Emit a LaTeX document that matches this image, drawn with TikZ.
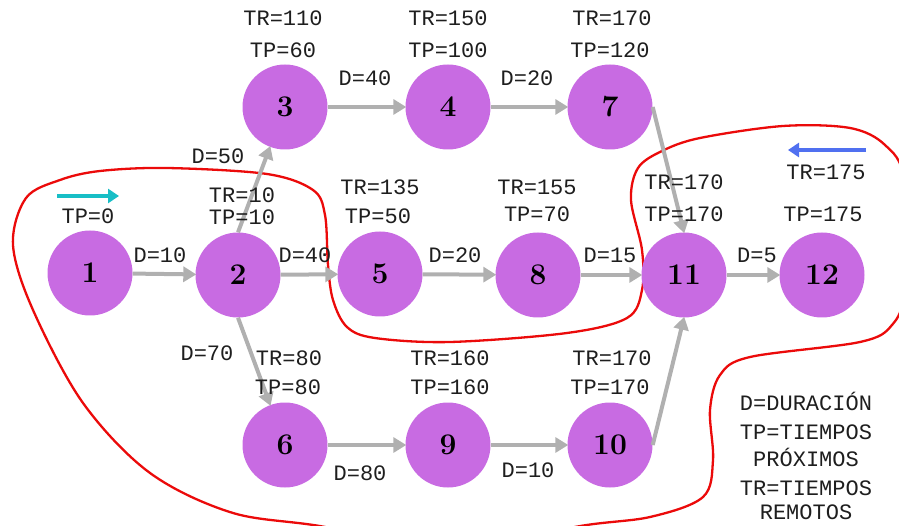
\documentclass[tikz,border=0pt]{standalone}
\usepackage{fontspec}
\newfontfamily\monofont{Liberation Mono}
\usetikzlibrary{arrows.meta}
\definecolor{nodepurple}{RGB}{200,107,226}
\definecolor{edgegray}{RGB}{176,176,176}
\definecolor{forwardcyan}{RGB}{24,190,198}
\definecolor{backblue}{RGB}{80,112,240}
\definecolor{critred}{RGB}{235,10,10}
\definecolor{labeltext}{RGB}{30,30,30}
\tikzset{
  event/.style={circle, fill=nodepurple, draw=none, minimum size=85pt, inner sep=0pt,
    font=\fontsize{30}{30}\selectfont\bfseries, text=black},
  lbl/.style={font=\monofont\fontsize{22}{22}\selectfont, text=labeltext, inner sep=0pt},
  activity/.style={draw=edgegray, line width=4pt, -{Triangle[length=13pt,width=15pt]}, shorten >=-1pt},
  dirarrow/.style={line width=3.5pt, -{Triangle[length=11pt,width=14pt]}},
  critical/.style={draw=critred, line width=2.3pt}
}
\begin{document}
\begin{tikzpicture}[x=1pt,y=-1pt]
\useasboundingbox (0,0) rectangle (899,526);
\begin{scope}
\clip (0,0) rectangle (899,526);
% boundary around the critical path
\draw[critical] plot[smooth cycle, tension=0.55] coordinates {
 (13,245) (26,198) (60,180) (100,171) (167,168) (267,174) (313,190) (325,215)
 (328,265) (333,300) (347,327) (375,338) (450,342) (567,333) (627,318) (642,290)
 (642,250) (631,200) (638,168) (662,151) (700,138) (783,126) (850,128) (885,145)
 (904,180) (904,290) (892,325) (860,342) (750,357) (720,375) (710,410) (713,460)
 (703,497) (650,517) (570,528) (450,560) (330,528) (233,513) (150,473) (83,403)
 (33,310)};
\end{scope}

% events
\node[event] (n1)  at (90,273)  {1};
\node[event] (n2)  at (238,275) {2};
\node[event] (n3)  at (285,107) {3};
\node[event] (n4)  at (448,107) {4};
\node[event] (n7)  at (610,107) {7};
\node[event] (n5)  at (380,274) {5};
\node[event] (n8)  at (538,275) {8};
\node[event] (n11) at (684,275) {11};
\node[event] (n12) at (822,275) {12};
\node[event] (n6)  at (285,445) {6};
\node[event] (n9)  at (448,445) {9};
\node[event] (n10) at (610,445) {10};

% activities
\draw[activity] (n1) -- (n2);
\draw[activity] (n2.north) -- (n3);
\draw[activity] (n3) -- (n4);
\draw[activity] (n4) -- (n7);
\draw[activity] (n7.east) -- (n11.north);
\draw[activity] (n2) -- (n5);
\draw[activity] (n5) -- (n8);
\draw[activity] (n8) -- (n11);
\draw[activity] (n11) -- (n12);
\draw[activity] (n2.south) -- (n6);
\draw[activity] (n6) -- (n9);
\draw[activity] (n9) -- (n10);
\draw[activity] (n10.east) -- (n11.south);

% durations
\node[lbl] (d12)  at (160,255) {D=10};
\node[lbl] (d23)  at (218,156) {D=50};
\node[lbl] (d34)  at (365,78)  {D=40};
\node[lbl] (d47)  at (527,78)  {D=20};
\node[lbl] (d25)  at (305,255) {D=40};
\node[lbl] (d58)  at (455,255) {D=20};
\node[lbl] (d811) at (610,255) {D=15};
\node[lbl] (d1112) at (757,255) {D=5};
\node[lbl] (d26)  at (207,353) {D=70};
\node[lbl] (d69)  at (360,473) {D=80};
\node[lbl] (d910) at (528,470) {D=10};

% times
\node[lbl] (tp1)  at (88,216)  {TP=0};
\node[lbl] (tr2)  at (242,195) {TR=10};
\node[lbl] (tp2)  at (242,217) {TP=10};
\node[lbl] (tr3)  at (283,18)  {TR=110};
\node[lbl] (tp3)  at (283,50)  {TP=60};
\node[lbl] (tr4)  at (448,18)  {TR=150};
\node[lbl] (tp4)  at (448,50)  {TP=100};
\node[lbl] (tr7)  at (612,18)  {TR=170};
\node[lbl] (tp7)  at (610,50)  {TP=120};
\node[lbl] (tr5)  at (380,187) {TR=135};
\node[lbl] (tp5)  at (378,216) {TP=50};
\node[lbl] (tr8)  at (537,187) {TR=155};
\node[lbl] (tp8)  at (537,214) {TP=70};
\node[lbl] (tr11) at (684,182) {TR=170};
\node[lbl] (tp11) at (684,214) {TP=170};
\node[lbl] (tr12) at (826,172) {TR=175};
\node[lbl] (tp12) at (823,214) {TP=175};
\node[lbl] (tr6)  at (289,358) {TR=80};
\node[lbl] (tp6)  at (288,387) {TP=80};
\node[lbl] (tr9)  at (450,358) {TR=160};
\node[lbl] (tp9)  at (450,387) {TP=160};
\node[lbl] (tr10) at (612,358) {TR=170};
\node[lbl] (tp10) at (610,387) {TP=170};

% direction of the forward and backward passes
\coordinate (fwA) at (57,196);
\coordinate (fwB) at (119,196);
\draw[dirarrow, forwardcyan] (fwA) -- (fwB);
\coordinate (bwA) at (866,150);
\coordinate (bwB) at (788,150);
\draw[dirarrow, backblue] (bwA) -- (bwB);

% legend
\node[lbl] (lg1) at (806,401) {D=DURACIÓN};
\node[lbl] (lg2) at (806,432) {TP=TIEMPOS};
\node[lbl] (lg3) at (806,457) {PRÓXIMOS};
\node[lbl] (lg4) at (806,488) {TR=TIEMPOS};
\node[lbl] (lg5) at (806,512) {REMOTOS};
\end{tikzpicture}
\end{document}
